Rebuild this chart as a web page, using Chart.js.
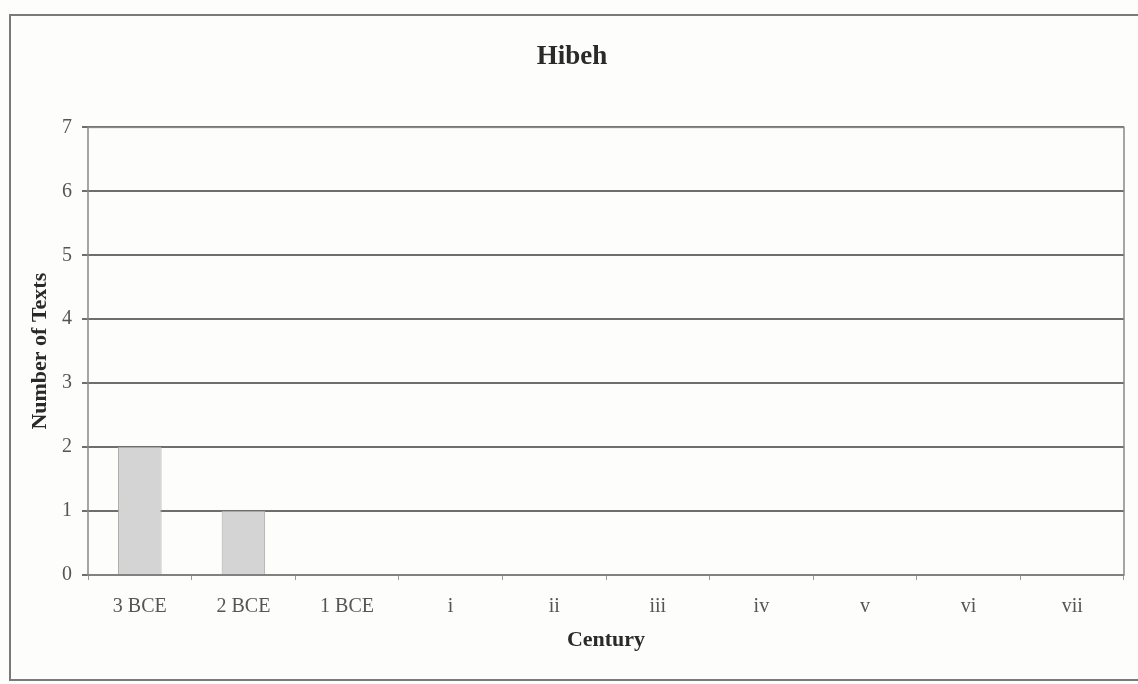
<!DOCTYPE html>
<html>
<head>
<meta charset="utf-8">
<script src="https://cdn.jsdelivr.net/npm/chart.js@4"></script>
<style>
    html, body { margin: 0; padding: 0; background: #fdfdfb; }
    #wrap { position: relative; width: 1138px; height: 684px; }
    #frame { position: absolute; left: 9px; top: 14px; width: 1140px; height: 667px; border: 2px solid #7a7a7a; box-sizing: border-box; }
    canvas { position: absolute; left: 0; top: 0; }
</style>
</head>
<body>
<div id="wrap">
    <div id="frame"></div>
    <canvas id="chart" width="1138" height="684"></canvas>
</div>
<script>
    const centuries = ['3 BCE', '2 BCE', '1 BCE', 'i', 'ii', 'iii', 'iv', 'v', 'vi', 'vii'];
    const textCounts = [2, 1, 0, 0, 0, 0, 0, 0, 0, 0];
    const yTicks = [0, 1, 2, 3, 4, 5, 6, 7];

    const SERIF = '"Liberation Serif", "DejaVu Serif", serif';

    // box round the plot area (right edge is drawn in the scan)
    const plotBorder = {
        id: 'plotBorder',
        afterDraw(chart) {
            const a = chart.chartArea, ctx = chart.ctx;
            ctx.save();
            ctx.strokeStyle = '#888';
            ctx.lineWidth = 1.5;
            ctx.strokeRect(a.left, a.top, a.right - a.left, a.bottom - a.top);
            ctx.restore();
        }
    };

    new Chart(document.getElementById('chart'), {
        type: 'bar',
        data: {
            labels: centuries,
            datasets: [{
                label: 'Hibeh',
                data: textCounts,
                backgroundColor: '#d4d4d4',
                borderColor: '#a8a8a8',
                borderWidth: 1,
                barPercentage: 0.84,
                categoryPercentage: 0.5
            }]
        },
        options: {
            responsive: false,
            animation: false,
            layout: { padding: { left: 20, right: 14, top: 0, bottom: 0 } },
            plugins: {
                legend: { display: false },
                tooltip: { enabled: false },
                title: {
                    display: true,
                    text: 'Hibeh',
                    color: '#2a2a2a',
                    font: { family: SERIF, size: 27, weight: 'bold' },
                    padding: { top: 41, bottom: 54 }
                }
            },
            scales: {
                x: {
                    grid: { display: true, drawOnChartArea: false, drawTicks: true, tickLength: 5, color: '#999' },
                    border: { display: false },
                    ticks: { color: '#555', font: { family: SERIF, size: 20 }, padding: 15, maxRotation: 0 },
                    title: { display: true, text: 'Century', color: '#2a2a2a', font: { family: SERIF, size: 22, weight: 'bold' }, padding: { top: 0, bottom: 30 } },
                    afterFit(scale) { scale.height = 109; }
                },
                y: {
                    min: 0,
                    max: 7,
                    afterBuildTicks(scale) { scale.ticks = yTicks.map(v => ({ value: v })); },
                    grid: { color: '#6e6e6e', lineWidth: 2, tickLength: 6 },
                    border: { display: false },
                    ticks: { color: '#555', font: { family: SERIF, size: 20 }, padding: 10 },
                    title: { display: true, text: 'Number of Texts', color: '#2a2a2a', font: { family: SERIF, size: 22, weight: 'bold' }, padding: { top: 7, bottom: 0 } },
                    afterFit(scale) { scale.width = 68; }
                }
            }
        },
        plugins: [plotBorder]
    });
</script>
</body>
</html>
